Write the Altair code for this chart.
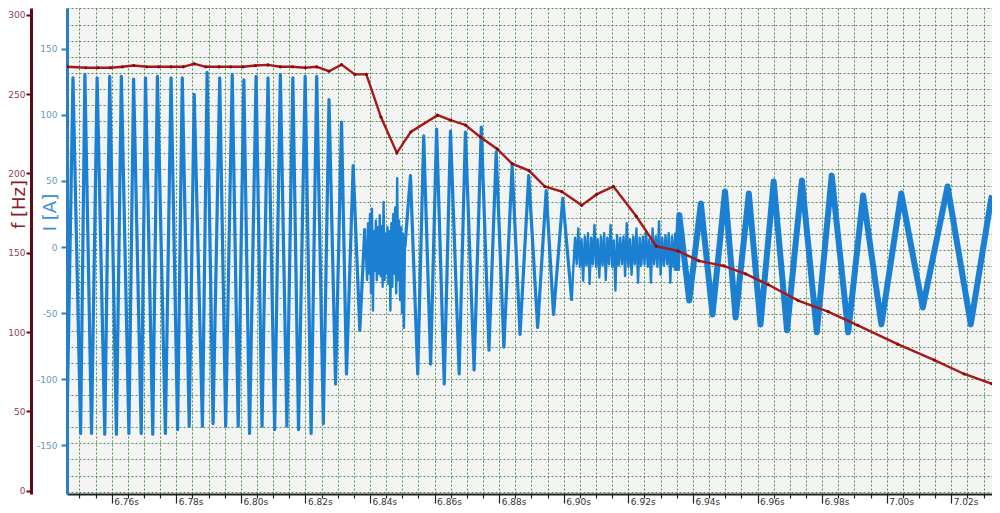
import altair as alt
import pandas as pd

# ---------------- data ----------------
# red series: frequency f [Hz]
freq_t = [6.74615, 6.75200, 6.75578, 6.75960, 6.76329, 6.76677, 6.77086, 6.77455, 6.77837,
          6.78215, 6.78554, 6.78914, 6.79323, 6.79683, 6.80071, 6.80452, 6.80840, 6.81222,
          6.81600, 6.81991, 6.82348, 6.82729, 6.83117, 6.83529, 6.83886, 6.84338, 6.84831,
          6.85262, 6.86092, 6.86492, 6.86954, 6.87415, 6.87938, 6.88400, 6.88923, 6.89415,
          6.89938, 6.90554, 6.91015, 6.91538, 6.92246, 6.92862, 6.93538, 6.94185, 6.94954,
          6.95631, 6.96338, 6.97262, 6.98185, 6.99108, 7.00338, 7.01477, 7.02400, 7.03262]
freq_hz = [267.3, 266.7, 266.7, 266.7, 267.3, 268.1, 267.3, 267.3, 267.3,
           267.3, 269.2, 267.3, 267.3, 267.3, 267.3, 268.1, 268.5, 267.3,
           267.3, 266.7, 267.3, 264.5, 268.7, 262.5, 262.5, 235.6, 213.0,
           226.2, 236.8, 233.7, 230.6, 223.0, 215.5, 206.2, 201.8, 191.8,
           188.6, 179.9, 186.8, 191.8, 173.0, 154.2, 151.1, 144.9, 141.7,
           136.7, 129.8, 119.8, 112.9, 104.2, 92.3, 82.3, 73.5, 67.3]

# blue series: current I [A], peaks / troughs and noise
cur_a_t = [6.74615, 6.74800, 6.75037, 6.75169, 6.75375, 6.75548, 6.75785, 6.75938, 6.76145,
           6.76298, 6.76532, 6.76677, 6.76914, 6.77046, 6.77271, 6.77415, 6.77662, 6.77837,
           6.78040, 6.78185, 6.78400, 6.78554, 6.78809, 6.78954, 6.79138, 6.79345, 6.79529,
           6.79732, 6.79917, 6.80092, 6.80268, 6.80471, 6.80655, 6.80840, 6.81046, 6.81222,
           6.81425, 6.81609, 6.81785, 6.81991, 6.82175, 6.82348, 6.82554, 6.82729, 6.82932,
           6.83117, 6.83271, 6.83477, 6.83683, 6.83837]
cur_a_i = [-133.5, 128, -141, 130.5, -141, 128, -141.5, 129, -141.5,
           129, -141, 127, -141, 128, -141.5, 129, -141, 128,
           -138, 128, -135.5, 115.5, -135.5, 132, -133.5, 128, -135.5,
           130.5, -135.5, 126.5, -141, 129, -135.5, 128, -138, 130.5,
           -135.5, 128, -138, 129, -141, 129, -133.5, 111.5, -103.5,
           94.5, -96, 61.5, -63, 14]

cur_b_t = [6.8391, 6.8394, 6.8397, 6.8400, 6.8403, 6.8406, 6.8409, 6.8412, 6.8415, 6.8418,
           6.8421, 6.8424, 6.8427, 6.8430, 6.8433, 6.8436, 6.8439, 6.8442, 6.8445, 6.8448,
           6.8451, 6.8454, 6.8457, 6.8460, 6.8463, 6.8466, 6.8469, 6.8472, 6.8475, 6.8478,
           6.8481, 6.8484, 6.8487, 6.8490, 6.8493, 6.8496, 6.8499, 6.8502, 6.8505, 6.8508]
cur_b_i = [-25, 18, -20, 25, -35, 29, -48, 12, -18, 20,
           -25, 15, -20, 24, -22, 16, -30, 34, -25, 10,
           -20, 15, -28, 12, -48, 18, -30, 25, -20, 30,
           -35, 52, -25, 20, -40, 15, -50, 10, -61, 0]

cur_c_t = [6.85252, 6.85477, 6.85662, 6.85877, 6.86062, 6.86298, 6.86492, 6.86760, 6.86954,
           6.87222, 6.87446, 6.87683, 6.87908, 6.88145, 6.88400, 6.88646, 6.88914, 6.89191,
           6.89455, 6.89683, 6.89969, 6.90246]
cur_c_i = [54, -96, 84, -88.5, 89.25, -103.5, 87.75, -96, 87,
           -93, 90.75, -78, 72, -75.75, 61.5, -66, 54, -60.75,
           42.75, -51, 36.75, -40.5]

cur_d_t = [6.9030, 6.9035, 6.9040, 6.9045, 6.9050, 6.9055, 6.9060, 6.9065, 6.9070, 6.9075,
           6.9080, 6.9085, 6.9090, 6.9095, 6.9100, 6.9105, 6.9110, 6.9115, 6.9120, 6.9125,
           6.9130, 6.9135, 6.9140, 6.9145, 6.9150, 6.9155, 6.9160, 6.9165, 6.9170, 6.9175,
           6.9180, 6.9185, 6.9190, 6.9195, 6.9200, 6.9205, 6.9210, 6.9215, 6.9220, 6.9225,
           6.9230, 6.9235, 6.9240, 6.9245, 6.9250, 6.9255, 6.9260, 6.9265, 6.9270, 6.9275,
           6.9280, 6.9285, 6.9290, 6.9295, 6.9300, 6.9305, 6.9310, 6.9315, 6.9320, 6.9325,
           6.9330, 6.9335, 6.9340, 6.9345, 6.9350]
cur_d_i = [-14, 7, -13, 14, -15, 6, -25.5, 8, -14, 10.5,
           -28, 7, -13, 16.7, -15, 6, -23, 8, -14, 10.5,
           -25, 7, -13, 16.7, -15, 5, -33, 9, -14, 7,
           -13, 8, -22, 18, -15, 6, -21, 8, -13, 14,
           -27, 7, -14, 8, -13, 12, -15, 6, -27, 14,
           -13, 8, -15, 19.5, -21, 7, -14, 9, -13, 10.5,
           -27, 8, -15, 10, -18]

cur_e_t = [6.93578, 6.93886, 6.94246, 6.94606, 6.94994, 6.95323, 6.95732, 6.96092, 6.96501,
           6.96914, 6.97375, 6.97837, 6.98298, 6.98809, 6.99271, 6.99837, 7.00452, 7.01117,
           7.01886, 7.02606, 7.03222, 7.03262]
cur_e_i = [24.2, -40.5, 33, -51, 42, -53.25, 40.5, -58.5, 49.5,
           -63, 50.25, -64.5, 54, -64.5, 39, -58.5, 40.5, -45.75,
           45.75, -58.5, 34.5, 39]

# axis tick labels
f_tick_values = [0, 50, 100, 150, 200, 250, 300]
i_tick_values = [-150, -100, -50, 0, 50, 100, 150]

# ---------------- tables ----------------
freq_df = pd.DataFrame({"t": freq_t, "f": freq_hz})

parts = [(cur_a_t, cur_a_i), (cur_b_t, cur_b_i), (cur_c_t, cur_c_i),
         (cur_d_t, cur_d_i), (cur_e_t, cur_e_i)]
part_dfs = []
prev = None
for ts, vs in parts:
    tt, ii = list(ts), list(vs)
    if prev is not None:
        tt = [prev[0]] + tt
        ii = [prev[1]] + ii
    part_dfs.append(pd.DataFrame({"t": tt, "i": ii}))
    prev = (ts[-1], vs[-1])

# ---------------- styling ----------------
FONT = "DejaVu Sans"
BLUE = "#1b80d2"
BLUE_AX = "#2a7fc0"
MAROON = "#5e0b16"
RED = "#a8171a"
GRID = "#3f8a3f"
PART_WIDTH = [3.2, 2.4, 3.2, 2.4, 6.0]

X_DOMAIN = [6.74615, 7.03262]
I_DOMAIN = [-186.75, 180.75]
F_DOMAIN = [-2.2, 304.4]

x_ticks = [round(6.750 + 0.005 * k, 3) for k in range(57)]
MAJOR = "abs(datum.value*50 - round(datum.value*50)) < 0.001"

x_axis = alt.Axis(
    values=x_ticks,
    labelExpr=f"{MAJOR} ? format(datum.value, '.2f') + 's' : ''",
    tickSize={"condition": {"test": MAJOR, "value": 9}, "value": 4},
    tickColor="#222222", tickWidth=1.2,
    domainColor="#222222", domainWidth=2,
    labelAlign="left", labelBaseline="top", labelPadding=-6, labelOffset=2,
    labelFont=FONT, labelFontSize=9, labelColor="#333333",
    labelOverlap=False, labelFlush=False,
    grid=True, gridColor=GRID, gridDash=[2, 2], gridWidth=1, gridOpacity=0.9,
    title=None,
)

# horizontal grid: square cells of the same size as the 0.005 s columns
grid_vals = [round(180.45 - 12.18 * k, 2) for k in range(31)]
IS_LAB = "abs(datum.value % 50) < 0.01"

i_axis = alt.Axis(
    orient="left",
    values=sorted(i_tick_values + grid_vals),
    labelExpr=f"{IS_LAB} ? '' + datum.value : ''",
    tickOpacity={"condition": {"test": IS_LAB, "value": 1}, "value": 0},
    grid=True, gridColor=GRID, gridDash=[2, 2], gridWidth=1,
    gridOpacity={"condition": {"test": IS_LAB, "value": 0}, "value": 0.9},
    tickSize=6, tickWidth=2, tickColor=BLUE_AX,
    domainColor=BLUE_AX, domainWidth=3,
    labelFont=FONT, labelFontSize=9, labelColor="#6a98c0", labelPadding=4,
    labelOverlap=False, labelFlush=False,
    title="I [A]", titleFont=FONT, titleFontSize=18, titleFontWeight="normal",
    titleColor="#3a8fd6", titleAngle=270, titleAlign="center", titleBaseline="middle",
    titleX=-17, titleY=204,
)

f_axis = alt.Axis(
    orient="left", offset=36,
    values=f_tick_values, grid=False,
    tickSize=5, tickWidth=2, tickColor=MAROON,
    domainColor=MAROON, domainWidth=3,
    labelFont=FONT, labelFontSize=9, labelColor="#914356", labelPadding=1,
    labelOverlap=False, labelFlush=False,
    title="f [Hz]", titleFont=FONT, titleFontSize=18, titleFontWeight="normal",
    titleColor="#8e1b2c", titleAngle=270, titleAlign="center", titleBaseline="middle",
    titleX=-12, titleY=196,
)

x_enc = alt.X("t:Q", scale=alt.Scale(domain=X_DOMAIN, nice=False, zero=False), axis=x_axis)
y_i = alt.Y("i:Q", scale=alt.Scale(domain=I_DOMAIN, nice=False, zero=False), axis=i_axis)

blue_layers = [
    alt.Chart(df).mark_line(color=BLUE, clip=True, strokeJoin="round", strokeWidth=w)
    .encode(x=x_enc, y=y_i)
    for df, w in zip(part_dfs, PART_WIDTH)
]
blue = alt.layer(*blue_layers)

red = alt.Chart(freq_df).mark_line(
    color=RED, strokeWidth=2.4, clip=True,
    point=alt.OverlayMarkDef(filled=True, size=10, color="#7a0c0c"),
).encode(
    x=x_enc,
    y=alt.Y("f:Q", scale=alt.Scale(domain=F_DOMAIN, nice=False, zero=False), axis=f_axis),
)

chart = (
    alt.layer(blue, red)
    .resolve_scale(y="independent")
    .properties(
        width=925, height=486,
        padding={"left": 59, "top": 0, "right": 0, "bottom": 11},
        autosize=alt.AutoSizeParams(type="none"),
        background="white",
    )
    .configure_view(fill="#f4f4f4", stroke=None)
)

chart.save("out.html", embed_options={"renderer": "svg", "actions": False})
